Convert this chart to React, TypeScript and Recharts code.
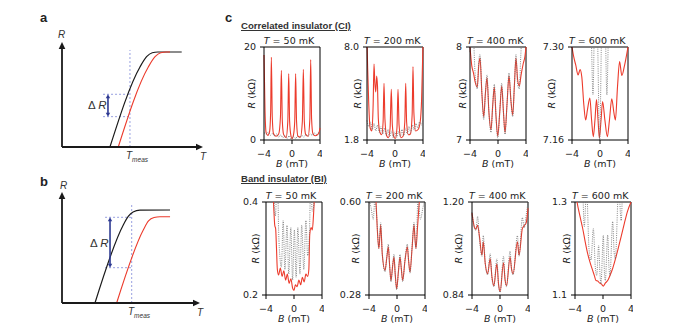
import React from 'react';
import { LineChart, Line, XAxis, YAxis, ReferenceLine } from 'recharts';

type Pt = [number, number];

// ---- panels a / b : schematic R(T) curves (arbitrary units, 0..10) ----
const schemABlack: Pt[] = [[3.4, 0], [5.53, 7.62], [6.0, 8.6], [6.4, 8.98], [6.8, 9.05], [8.49, 9.05]];
const schemARed: Pt[] = [[3.99, 0], [6.12, 7.62], [6.6, 8.6], [7.0, 8.98], [7.4, 9.05], [7.66, 9.05]];
const schemAMeas = { t: 4.82, rTop: 9.24 };
const schemADelta = { tFrom: 2.91, tArrow: 3.26, rLow: 2.89, rHigh: 5.02 };

const schemBBlack: Pt[] = [[2.39, 0], [4.44, 7.03], [4.8, 7.8], [5.15, 8.2], [5.65, 8.36], [7.83, 8.38]];
const schemBRed: Pt[] = [[3.96, 0], [5.89, 6.58], [6.27, 7.39], [6.67, 7.7], [7.1, 7.77], [7.83, 7.77]];
const schemBMeas = { t: 5.05, rTop: 8.83 };
const schemBDelta = { tFrom: 3.12, tArrow: 3.48, rLow: 3.18, rHigh: 7.72 };

// ---- panel c : R (kOhm) vs B (mT) ----
const bTicks = [-4, 0, 4];

// correlated insulator
const ci50Red: Pt[] = [[-4.0, 18.3], [-3.85, 6], [-3.7, 1.6], [-3.45, 1.0], [-3.2, 1.8], [-3.05, 6], [-2.95, 17.8], [-2.82, 5], [-2.65, 1.4], [-2.3, 0.8], [-1.9, 1.3], [-1.65, 5], [-1.52, 15.0], [-1.38, 4], [-1.2, 1.2], [-0.85, 0.5], [-0.6, 4], [-0.47, 14.3], [-0.34, 4], [-0.15, 0.9], [0, 0.3], [0.2, 1.0], [0.39, 4], [0.52, 14.3], [0.65, 4], [0.85, 0.8], [1.2, 0.6], [1.48, 4], [1.62, 15.2], [1.76, 4], [1.95, 1.2], [2.3, 0.8], [2.55, 4.5], [2.67, 17.3], [2.8, 4.5], [2.98, 1.4], [3.3, 0.9], [3.7, 1.2], [3.9, 1.8], [4.0, 2.6]];
const ci50Gray: Pt[] = [[-4, 1.6], [-3.7, 1.3], [-3.4, 1.7], [-3.1, 1.0], [-2.8, 1.4], [-2.5, 0.9], [-2.2, 1.3], [-1.9, 0.6], [-1.6, 1.1], [-1.3, 0.5], [-1.0, 1.0], [-0.7, 0.3], [-0.4, 0.9], [-0.1, 0.2], [0.2, 0.8], [0.5, 0.3], [0.8, 0.9], [1.1, 0.5], [1.4, 1.0], [1.7, 0.6], [2.0, 1.2], [2.3, 0.8], [2.6, 1.3], [2.9, 1.0], [3.2, 1.5], [3.5, 1.2], [3.8, 1.6], [4.0, 1.4]];
const ci50Ticks = ['0', '20'];

const ci200Red: Pt[] = [[-4.0, 8.4], [-3.9, 6.5], [-3.75, 4.2], [-3.55, 2.6], [-3.3, 2.4], [-3.12, 4.2], [-3.0, 6.87], [-2.88, 5.6], [-2.75, 5.0], [-2.62, 6.07], [-2.5, 5.4], [-2.38, 3.2], [-2.15, 2.3], [-1.9, 2.15], [-1.7, 3.0], [-1.57, 5.58], [-1.44, 3.2], [-1.2, 2.1], [-0.95, 1.95], [-0.7, 2.6], [-0.53, 5.18], [-0.38, 2.8], [-0.15, 2.0], [0.05, 1.9], [0.28, 2.6], [0.43, 5.18], [0.58, 2.8], [0.85, 1.95], [1.15, 2.05], [1.4, 3.0], [1.53, 5.58], [1.66, 3.0], [1.9, 2.15], [2.2, 2.2], [2.45, 3.5], [2.57, 6.69], [2.7, 3.6], [2.95, 2.4], [3.3, 2.5], [3.6, 3.0], [3.8, 4.5], [3.95, 7.3], [4.0, 8.2]];
const ci200Gray: Pt[] = [[-4, 3.1], [-3.75, 2.7], [-3.5, 3.0], [-3.25, 2.5], [-3.0, 2.9], [-2.75, 2.4], [-2.5, 2.8], [-2.25, 2.3], [-2.0, 2.7], [-1.75, 2.2], [-1.5, 2.6], [-1.25, 2.1], [-1.0, 2.5], [-0.75, 2.0], [-0.5, 2.4], [-0.25, 1.95], [0, 2.35], [0.25, 1.95], [0.5, 2.4], [0.75, 2.0], [1.0, 2.5], [1.25, 2.1], [1.5, 2.6], [1.75, 2.2], [2.0, 2.7], [2.25, 2.3], [2.5, 2.8], [2.75, 2.45], [3.0, 2.9], [3.25, 2.6], [3.5, 3.0], [3.75, 2.8], [4.0, 3.2]];
const ci200Ticks = ['1.8', '8.0'];

const ci400Red: Pt[] = [[-4.0, 8.0], [-3.75, 7.8], [-3.5, 7.72], [-3.25, 7.62], [-2.96, 7.57], [-2.75, 7.8], [-2.57, 7.88], [-2.3, 7.5], [-2.04, 7.25], [-1.8, 7.5], [-1.57, 7.67], [-1.3, 7.3], [-1.0, 7.11], [-0.75, 7.38], [-0.53, 7.57], [-0.28, 7.25], [-0.04, 7.04], [0.25, 7.3], [0.53, 7.58], [0.78, 7.3], [1.0, 7.08], [1.3, 7.4], [1.57, 7.69], [1.85, 7.42], [2.1, 7.27], [2.35, 7.6], [2.57, 7.88], [2.8, 7.65], [3.04, 7.58], [3.3, 7.7], [3.6, 7.82], [3.85, 7.9], [4.0, 8.0]];
const ci400Gray: Pt[] = [[-4.0, 7.95], [-3.75, 8.15], [-3.55, 8.15], [-3.3, 7.75], [-2.96, 7.55], [-2.75, 7.85], [-2.57, 7.92], [-2.3, 7.5], [-2.04, 7.22], [-1.8, 7.5], [-1.57, 7.7], [-1.3, 7.3], [-1.0, 7.08], [-0.75, 7.38], [-0.53, 7.6], [-0.28, 7.25], [-0.04, 7.02], [0.25, 7.3], [0.53, 7.61], [0.78, 7.3], [1.0, 7.06], [1.3, 7.4], [1.57, 7.72], [1.85, 7.42], [2.1, 7.25], [2.35, 7.6], [2.57, 7.92], [2.8, 7.6], [3.04, 7.55], [3.25, 7.9], [3.45, 8.15], [3.7, 8.15], [4.0, 8.0]];
const ci400Ticks = ['7', '8'];

const ci600Red: Pt[] = [[-4.0, 7.3], [-3.75, 7.285], [-3.47, 7.273], [-3.13, 7.258], [-2.84, 7.266], [-2.6, 7.255], [-2.31, 7.213], [-2.05, 7.19], [-1.8, 7.205], [-1.45, 7.223], [-1.2, 7.19], [-0.96, 7.165], [-0.72, 7.19], [-0.5, 7.221], [-0.28, 7.19], [-0.09, 7.163], [0.15, 7.19], [0.37, 7.218], [0.7, 7.19], [1.05, 7.165], [1.35, 7.19], [1.68, 7.222], [2.0, 7.2], [2.2, 7.19], [2.5, 7.24], [2.8, 7.278], [3.12, 7.257], [3.5, 7.272], [4.0, 7.3]];
const ci600Gray: Pt[] = [[-4.0, 7.35], [-1.35, 7.35], [-1.0, 7.228], [-0.75, 7.35], [-0.45, 7.35], [-0.05, 7.16], [0.3, 7.35], [0.7, 7.35], [0.98, 7.228], [1.3, 7.35], [4.0, 7.35]];
const ci600Ticks = ['7.16', '7.30'];

// band insulator
const bi50Red: Pt[] = [[-4.0, 0.46], [-3.05, 0.44], [-2.9, 0.39], [-2.75, 0.35], [-2.62, 0.342], [-2.5, 0.3], [-2.38, 0.255], [-2.2, 0.243], [-1.95, 0.258], [-1.7, 0.24], [-1.45, 0.252], [-1.2, 0.232], [-0.95, 0.245], [-0.7, 0.225], [-0.45, 0.235], [-0.2, 0.215], [0, 0.21], [0.2, 0.222], [0.45, 0.218], [0.7, 0.232], [0.95, 0.222], [1.2, 0.238], [1.45, 0.228], [1.7, 0.245], [1.95, 0.24], [2.12, 0.255], [2.25, 0.33], [2.45, 0.345], [2.62, 0.34], [2.78, 0.37], [2.92, 0.41], [3.05, 0.45], [4.0, 0.46]];
const bi50Gray: Pt[] = [[-4.0, 0.46], [-2.95, 0.45], [-2.8, 0.39], [-2.65, 0.37], [-2.5, 0.42], [-2.35, 0.45], [-2.2, 0.34], [-2.0, 0.28], [-1.8, 0.26], [-1.55, 0.36], [-1.3, 0.255], [-1.0, 0.35], [-0.75, 0.245], [-0.45, 0.345], [-0.2, 0.232], [0.05, 0.34], [0.3, 0.238], [0.55, 0.345], [0.85, 0.245], [1.1, 0.35], [1.4, 0.255], [1.7, 0.36], [1.95, 0.285], [2.2, 0.33], [2.4, 0.45], [2.6, 0.38], [2.8, 0.39], [2.95, 0.45], [4.0, 0.46]];
const bi50Ticks = ['0.2', '0.4'];

const bi200Red: Pt[] = [[-4.0, 0.66], [-3.2, 0.64], [-3.0, 0.6], [-2.8, 0.5], [-2.6, 0.44], [-2.45, 0.48], [-2.33, 0.521], [-2.1, 0.42], [-1.71, 0.365], [-1.45, 0.41], [-1.24, 0.446], [-1.05, 0.38], [-0.86, 0.33], [-0.62, 0.38], [-0.43, 0.411], [-0.25, 0.35], [-0.05, 0.301], [0.2, 0.36], [0.43, 0.411], [0.62, 0.37], [0.81, 0.33], [1.15, 0.4], [1.48, 0.446], [1.65, 0.4], [1.86, 0.359], [2.15, 0.44], [2.43, 0.521], [2.58, 0.47], [2.71, 0.44], [2.95, 0.52], [3.19, 0.6], [3.4, 0.65], [4.0, 0.66]];
const bi200Gray: Pt[] = [[-4.0, 0.61], [-3.7, 0.58], [-3.4, 0.54], [-3.15, 0.61], [-2.9, 0.55], [-2.6, 0.44], [-2.45, 0.49], [-2.33, 0.53], [-2.1, 0.42], [-1.71, 0.36], [-1.45, 0.415], [-1.24, 0.455], [-1.05, 0.38], [-0.86, 0.325], [-0.62, 0.385], [-0.43, 0.42], [-0.25, 0.35], [-0.05, 0.298], [0.2, 0.36], [0.43, 0.42], [0.62, 0.37], [0.81, 0.325], [1.15, 0.405], [1.48, 0.455], [1.65, 0.4], [1.86, 0.355], [2.15, 0.445], [2.43, 0.53], [2.58, 0.47], [2.71, 0.44], [3.0, 0.61], [3.35, 0.54], [3.7, 0.58], [4.0, 0.61]];
const bi200Ticks = ['0.28', '0.60'];

const bi400Red: Pt[] = [[-4.0, 1.157], [-3.67, 1.104], [-3.45, 1.095], [-3.2, 1.11], [-2.95, 1.07], [-2.58, 0.994], [-2.39, 1.046], [-2.1, 0.96], [-1.77, 0.922], [-1.4, 0.981], [-1.15, 0.91], [-0.875, 0.876], [-0.45, 0.961], [-0.2, 0.88], [0.02, 0.853], [0.5, 0.965], [0.72, 0.9], [0.93, 0.876], [1.44, 0.987], [1.65, 0.94], [1.87, 0.922], [2.49, 1.046], [2.72, 0.994], [3.2, 1.098], [3.5, 1.11], [3.75, 1.12], [4.0, 1.176]];
const bi400Gray: Pt[] = [[-4.0, 1.16], [-3.67, 1.1], [-3.45, 1.09], [-3.2, 1.144], [-2.95, 1.06], [-2.58, 0.99], [-2.39, 1.07], [-2.1, 0.96], [-1.77, 0.918], [-1.4, 1.0], [-1.15, 0.905], [-0.875, 0.872], [-0.45, 0.98], [-0.2, 0.875], [0.02, 0.85], [0.5, 0.99], [0.72, 0.9], [0.93, 0.872], [1.44, 1.01], [1.65, 0.94], [1.87, 0.918], [2.49, 1.07], [2.72, 0.99], [3.2, 1.14], [3.45, 1.1], [3.75, 1.15], [4.0, 1.2]];
const bi400Ticks = ['0.84', '1.20'];

const bi600Red: Pt[] = [[-4.0, 1.33], [-3.71, 1.3], [-3.3, 1.27], [-2.9, 1.243], [-2.55, 1.215], [-2.19, 1.189], [-1.85, 1.17], [-1.48, 1.153], [-1.2, 1.14], [-1.0, 1.131], [-0.75, 1.13], [-0.52, 1.126], [-0.25, 1.124], [0.05, 1.119], [0.35, 1.126], [0.67, 1.131], [1.0, 1.142], [1.38, 1.157], [1.75, 1.176], [2.1, 1.196], [2.6, 1.226], [3.05, 1.254], [3.5, 1.28], [4.0, 1.3]];
const bi600Gray: Pt[] = [[-4.0, 1.36], [-3.0, 1.36], [-2.67, 1.247], [-2.35, 1.33], [-2.0, 1.2], [-1.71, 1.175], [-1.38, 1.243], [-1.1, 1.16], [-0.9, 1.142], [-0.62, 1.207], [-0.45, 1.15], [-0.29, 1.124], [0.05, 1.229], [0.2, 1.15], [0.33, 1.131], [0.67, 1.229], [0.85, 1.16], [1.0, 1.142], [1.38, 1.258], [1.6, 1.19], [1.76, 1.178], [2.24, 1.33], [2.6, 1.26], [2.9, 1.36], [4.0, 1.36]];
const bi600Ticks = ['1.1', '1.3'];

const RED = '#ec3b2c';
const GRAY = '#6a6a6a';
const BLUE = '#7d88d8';
const NAVY = '#2e3a92';
const SANS = '"Liberation Sans", Arial, sans-serif';

const PLOT_W = 56;
const PLOT_H = 93;
const Y_W = 40;
const X_H = 32;
const TOP_PAD = 8;

const toRows = (pts: Pt[]) => pts.map(([b, r]) => ({ b, r }));
const toTR = (pts: Pt[]) => pts.map(([t, r]) => ({ t, r }));
const minus = (v: number) => (v < 0 ? `\u2212${-v}` : `${v}`);

interface PanelCfg {
    temp: string;
    red: Pt[];
    gray: Pt[];
    ticks: string[];
    domain: [number, number];
    left: number;
    top: number;
    labelDx: number;
}

const ciPanels: PanelCfg[] = [
    { temp: '50', red: ci50Red, gray: ci50Gray, ticks: ci50Ticks, domain: [0, 20], left: 264, top: 47, labelDx: 13 },
    { temp: '200', red: ci200Red, gray: ci200Gray, ticks: ci200Ticks, domain: [1.8, 8.0], left: 367, top: 47, labelDx: 10 },
    { temp: '400', red: ci400Red, gray: ci400Gray, ticks: ci400Ticks, domain: [7, 8], left: 470, top: 47, labelDx: 8 },
    { temp: '600', red: ci600Red, gray: ci600Gray, ticks: ci600Ticks, domain: [7.16, 7.3], left: 572, top: 47, labelDx: 21 },
];

const biPanels: PanelCfg[] = [
    { temp: '50', red: bi50Red, gray: bi50Gray, ticks: bi50Ticks, domain: [0.2, 0.4], left: 266, top: 202, labelDx: 11 },
    { temp: '200', red: bi200Red, gray: bi200Gray, ticks: bi200Ticks, domain: [0.28, 0.6], left: 369, top: 202, labelDx: 14 },
    { temp: '400', red: bi400Red, gray: bi400Gray, ticks: bi400Ticks, domain: [0.84, 1.2], left: 472, top: 202, labelDx: 14 },
    { temp: '600', red: bi600Red, gray: bi600Gray, ticks: bi600Ticks, domain: [1.1, 1.3], left: 575, top: 202, labelDx: 9 },
];

// Small absolutely positioned text
const Txt: React.FC<{ x: number; y: number; size: number; style?: React.CSSProperties; children: React.ReactNode }> = ({ x, y, size, style, children }) => (
    <div style={{ position: 'absolute', left: x, top: y, fontSize: size, lineHeight: 1, whiteSpace: 'nowrap', ...style }}>
        {children}
    </div>
);

// triangle for an arrow tip at (x, y) pointing along (ux, uy)
const tri = (x: number, y: number, ux: number, uy: number, l: number, w: number) =>
    `${x},${y} ${x - ux * l - uy * w},${y - uy * l + ux * w} ${x - ux * l + uy * w},${y - uy * l - ux * w}`;

const arrowShape = (both: boolean, l: number, w: number, color: string, width: number) => (p: any) => {
    const { x1, y1, x2, y2 } = p;
    const len = Math.hypot(x2 - x1, y2 - y1) || 1;
    const ux = (x2 - x1) / len;
    const uy = (y2 - y1) / len;
    const sx = both ? x1 + ux * l * 0.8 : x1;
    const sy = both ? y1 + uy * l * 0.8 : y1;
    return (
        <g>
            <line x1={sx} y1={sy} x2={x2 - ux * l * 0.8} y2={y2 - uy * l * 0.8} stroke={color} strokeWidth={width} />
            <polygon points={tri(x2, y2, ux, uy, l, w)} fill={color} />
            {both && <polygon points={tri(x1, y1, -ux, -uy, l, w)} fill={color} />}
        </g>
    );
};

interface SchemProps {
    black: Pt[];
    red: Pt[];
    meas: { t: number; rTop: number };
    delta: { tFrom: number; tArrow: number; rLow: number; rHigh: number };
    left: number;
    top: number;
    w: number;
    h: number;
}

const M = { top: 8, right: 8, bottom: 4, left: 6 };

const Schematic: React.FC<SchemProps> = ({ black, red, meas, delta, left, top, w, h }) => (
    <div style={{ position: 'absolute', left: left - M.left, top: top - M.top }}>
        <LineChart width={w + M.left + M.right} height={h + M.top + M.bottom} margin={M}>
            <XAxis type="number" dataKey="t" domain={[0, 10]} hide />
            <YAxis type="number" domain={[0, 10]} hide />
            <ReferenceLine ifOverflow="visible" segment={[{ x: meas.t, y: 0 }, { x: meas.t, y: meas.rTop }]} stroke={BLUE} strokeWidth={0.8} strokeDasharray="2 2" />
            <ReferenceLine ifOverflow="visible" segment={[{ x: delta.tFrom, y: delta.rHigh }, { x: meas.t, y: delta.rHigh }]} stroke={BLUE} strokeWidth={0.8} strokeDasharray="2 2" />
            <ReferenceLine ifOverflow="visible" segment={[{ x: delta.tFrom, y: delta.rLow }, { x: meas.t, y: delta.rLow }]} stroke={BLUE} strokeWidth={0.8} strokeDasharray="2 2" />
            <Line data={toTR(black)} dataKey="r" type="monotone" stroke="#1a1a1a" strokeWidth={1.2} dot={false} isAnimationActive={false} />
            <Line data={toTR(red)} dataKey="r" type="monotone" stroke={RED} strokeWidth={1.1} dot={false} isAnimationActive={false} />
            <ReferenceLine ifOverflow="visible" segment={[{ x: delta.tArrow, y: delta.rLow }, { x: delta.tArrow, y: delta.rHigh }]} shape={arrowShape(true, 4, 2.2, NAVY, 1.6)} />
            <ReferenceLine ifOverflow="visible" segment={[{ x: 0, y: 0 }, { x: 0, y: 10 }]} shape={arrowShape(false, 7, 3.3, '#1a1a1a', 1.8)} />
            <ReferenceLine ifOverflow="visible" segment={[{ x: 0, y: 0 }, { x: 10, y: 0 }]} shape={arrowShape(false, 7, 3.3, '#1a1a1a', 1.8)} />
        </LineChart>
    </div>
);

const Tmeas: React.FC<{ x: number; y: number }> = ({ x, y }) => (
    <Txt x={x} y={y} size={10} style={{ fontFamily: SANS, color: '#333' }}>
        <i>T</i>
        <span style={{ fontSize: 6.5, fontStyle: 'italic', position: 'relative', top: 3 }}>meas</span>
    </Txt>
);

const Trace: React.FC<{ cfg: PanelCfg }> = ({ cfg }) => {
    const { domain, ticks, labelDx } = cfg;
    return (
        <>
            <div
                style={{
                    position: 'absolute',
                    left: cfg.left - 3,
                    top: cfg.top - 11,
                    width: PLOT_W,
                    textAlign: 'center',
                    fontSize: 9.5,
                    lineHeight: '10px',
                    whiteSpace: 'nowrap',
                }}
            >
                <i>T</i> = {cfg.temp} mK
            </div>
            <div style={{ position: 'absolute', left: cfg.left - Y_W, top: cfg.top - TOP_PAD }}>
                <LineChart width={Y_W + PLOT_W + 2} height={PLOT_H + TOP_PAD + X_H} margin={{ top: TOP_PAD, right: 2, bottom: 0, left: 0 }}>
                    <XAxis
                        type="number"
                        dataKey="b"
                        domain={[-4, 4]}
                        ticks={bTicks}
                        interval={0}
                        height={X_H}
                        tickSize={4}
                        tickMargin={6}
                        tickFormatter={minus}
                        axisLine={{ stroke: '#000' }}
                        tickLine={{ stroke: '#000' }}
                        tick={{ fontSize: 9.5, fill: '#222' }}
                        label={(p: any) => {
                            const { x, y, width } = p.viewBox;
                            return (
                                <text x={x + width / 2} y={y + 23} textAnchor="middle" dominantBaseline="central" fontSize={9.5} fill="#222">
                                    <tspan fontStyle="italic">B</tspan> (mT)
                                </text>
                            );
                        }}
                    />
                    <YAxis
                        type="number"
                        domain={domain}
                        ticks={domain}
                        interval={0}
                        allowDataOverflow
                        width={Y_W}
                        tickSize={4}
                        tickMargin={4}
                        tickFormatter={(_v: number, i: number) => ticks[i]}
                        axisLine={{ stroke: '#000' }}
                        tickLine={{ stroke: '#000' }}
                        tick={{ fontSize: 9.5, fill: '#222' }}
                        label={(p: any) => {
                            const { x, y, width, height } = p.viewBox;
                            const cx = x + width - labelDx;
                            const cy = y + height / 2;
                            return (
                                <text x={cx} y={cy} transform={`rotate(-90 ${cx} ${cy})`} textAnchor="middle" dominantBaseline="central" fontSize={9.5} fill="#222">
                                    <tspan fontStyle="italic">R</tspan> (k{'\u03A9'})
                                </text>
                            );
                        }}
                    />
                    <ReferenceLine x={4} stroke="#000" />
                    <ReferenceLine y={domain[1]} stroke="#000" />
                    <Line data={toRows(cfg.red)} dataKey="r" type="monotone" stroke={RED} strokeWidth={1.1} dot={false} isAnimationActive={false} />
                    <Line data={toRows(cfg.gray)} dataKey="r" type="monotone" stroke={GRAY} strokeWidth={0.8} strokeDasharray="1 1.2" dot={false} isAnimationActive={false} />
                </LineChart>
            </div>
        </>
    );
};

export default function App() {
    return (
        <div
            style={{
                position: 'absolute',
                left: 0,
                top: 0,
                width: 677,
                height: 333,
                background: '#fff',
                fontFamily: '"DejaVu Sans", sans-serif',
                color: '#222',
                overflow: 'hidden',
            }}
        >
            {/* panel a */}
            <Txt x={40} y={11} size={13} style={{ fontFamily: SANS, fontWeight: 700 }}>a</Txt>
            <Txt x={58} y={30} size={10} style={{ fontFamily: SANS, fontStyle: 'italic', color: '#333' }}>R</Txt>
            <Txt x={200} y={152} size={10} style={{ fontFamily: SANS, fontStyle: 'italic', color: '#333' }}>T</Txt>
            <Tmeas x={126} y={151} />
            <Txt x={88} y={100} size={11.5} style={{ fontFamily: SANS, color: '#333' }}>Δ <i>R</i></Txt>
            <Schematic black={schemABlack} red={schemARed} meas={schemAMeas} delta={schemADelta} left={62} top={42} w={141} h={105} />

            {/* panel b */}
            <Txt x={40} y={175} size={13} style={{ fontFamily: SANS, fontWeight: 700 }}>b</Txt>
            <Txt x={60} y={181} size={10} style={{ fontFamily: SANS, fontStyle: 'italic', color: '#333' }}>R</Txt>
            <Txt x={197} y={308} size={10} style={{ fontFamily: SANS, fontStyle: 'italic', color: '#333' }}>T</Txt>
            <Tmeas x={128} y={307} />
            <Txt x={90} y={238} size={11.5} style={{ fontFamily: SANS, color: '#333' }}>Δ <i>R</i></Txt>
            <Schematic black={schemBBlack} red={schemBRed} meas={schemBMeas} delta={schemBDelta} left={62} top={192} w={138} h={111} />

            {/* panel c */}
            <Txt x={225} y={11} size={13} style={{ fontFamily: SANS, fontWeight: 700 }}>c</Txt>
            <Txt x={241} y={21} size={9.6} style={{ fontFamily: SANS, fontWeight: 700, textDecoration: 'underline', color: '#333' }}>
                Correlated insulator (CI)
            </Txt>
            <Txt x={241} y={174} size={9.6} style={{ fontFamily: SANS, fontWeight: 700, textDecoration: 'underline', color: '#333' }}>
                Band insulator (BI)
            </Txt>
            {ciPanels.map((c) => (
                <Trace key={`ci-${c.temp}`} cfg={c} />
            ))}
            {biPanels.map((c) => (
                <Trace key={`bi-${c.temp}`} cfg={c} />
            ))}
        </div>
    );
}
